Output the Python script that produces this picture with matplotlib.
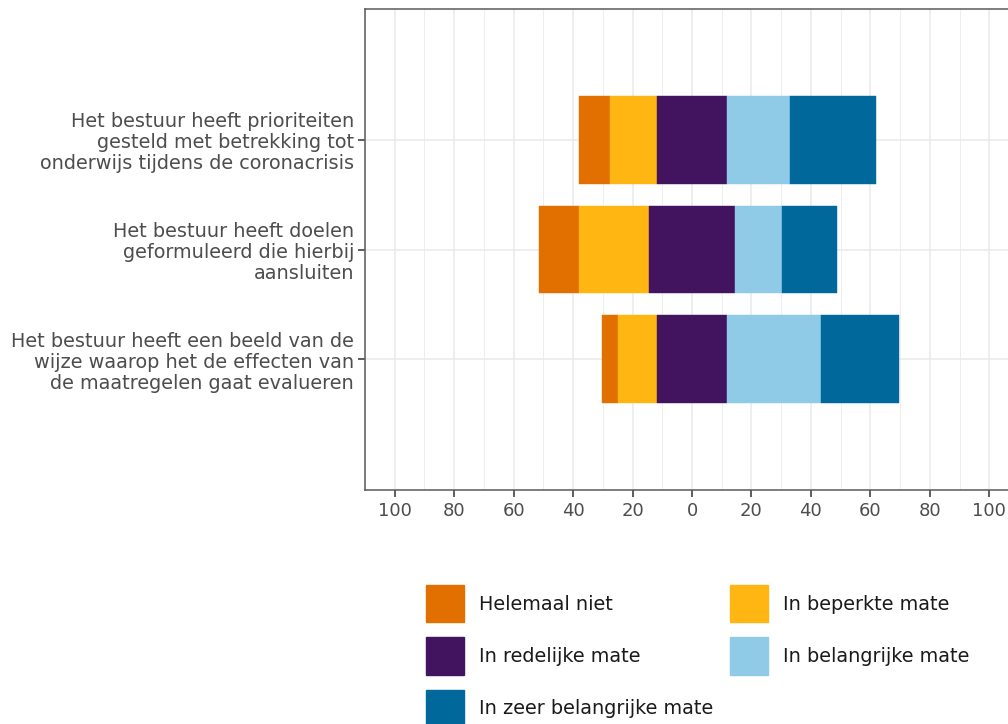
import matplotlib
matplotlib.use("Agg")
import matplotlib.pyplot as plt
from matplotlib.patches import Patch
from matplotlib.ticker import FixedLocator
import numpy as np

plt.rcParams['font.family'] = ['DejaVu Sans']

categories = [
    "Het bestuur heeft prioriteiten\ngesteld met betrekking tot\nonderwijs tijdens de coronacrisis",
    "Het bestuur heeft doelen\ngeformuleerd die hierbij\naansluiten",
    "Het bestuur heeft een beeld van de\nwijze waarop het de effecten van\nde maatregelen gaat evalueren",
]
levels = ["Helemaal niet", "In beperkte mate", "In redelijke mate",
          "In belangrijke mate", "In zeer belangrijke mate"]
colors = ["#E17000", "#FFB612", "#42145F", "#8FCAE7", "#01689B"]

helemaal_niet = [10.5, 13.2, 5.3]
beperkt = [15.8, 23.7, 13.2]
redelijk = [23.7, 28.9, 23.7]
belangrijk = [21.1, 15.8, 31.6]
zeer_belangrijk = [28.9, 18.4, 26.3]

xticks = [-100, -80, -60, -40, -20, 0, 20, 40, 60, 80, 100]
xticklabels = ["100", "80", "60", "40", "20", "0", "20", "40", "60", "80", "100"]

data = np.array([helemaal_niet, beperkt, redelijk, belangrijk, zeer_belangrijk])
starts = -(data[0] + data[1] + data[2] / 2)

fig = plt.figure(figsize=(10.08, 7.24), dpi=100)
ax = fig.add_axes([365/1008, (724-490)/724, (1019-365)/1008, (490-9)/724])

ypos = np.array([3, 2, 1])
left = starts.copy()
for i, lev in enumerate(levels):
    ax.barh(ypos, data[i], left=left, height=0.8, color=colors[i],
            edgecolor=colors[i], linewidth=0.3, zorder=3)
    left = left + data[i]

ax.set_xlim(-110, 110)
ax.set_ylim(-0.19, 4.19)
ax.set_xticks(xticks)
ax.set_xticklabels(xticklabels)
ax.xaxis.set_minor_locator(FixedLocator([-110, -90, -70, -50, -30, -10, 10, 30, 50, 70, 90, 110]))
ax.set_yticks(ypos)
ax.set_yticklabels(categories, linespacing=1.12)

ax.grid(True, which='major', color='#EBEBEB', linewidth=1.2, zorder=0)
ax.grid(True, which='minor', axis='x', color='#EBEBEB', linewidth=0.6, zorder=0)
ax.set_axisbelow(True)

for s in ax.spines.values():
    s.set_color('#5A5A5A')
    s.set_linewidth(1.1)

ax.tick_params(axis='x', which='major', length=5, width=1.1, color='#333333',
               labelsize=13, labelcolor='#4D4D4D', pad=4)
ax.tick_params(axis='y', which='major', length=5, width=1.1, color='#333333',
               labelsize=13.9, labelcolor='#4D4D4D', pad=3)
ax.tick_params(axis='both', which='minor', length=0)

handles = [Patch(facecolor=c, edgecolor=c, label=l) for c, l in zip(colors, levels)]
order = [0, 2, 4, 1, 3]
fig.legend([handles[i] for i in order], [levels[i] for i in order],
           loc='upper left', bbox_to_anchor=(426/1008, (724-585)/724),
           ncol=2, frameon=False, fontsize=13.9, handlelength=1.97, handleheight=2.6,
           labelspacing=0.78, handletextpad=0.76, columnspacing=0.88,
           borderpad=0, borderaxespad=0, labelcolor='#1A1A1A')

fig.savefig("out.png", dpi=100)
